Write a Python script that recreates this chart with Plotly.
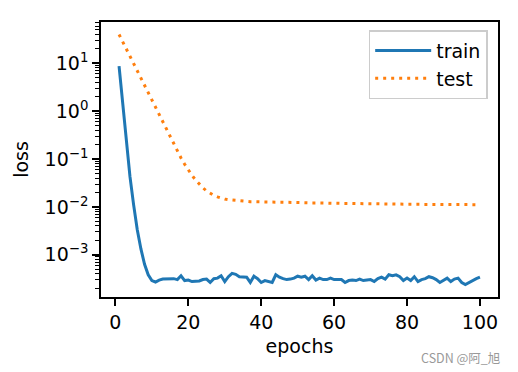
import plotly.graph_objects as go

epochs = list(range(1, 101))

train_loss = [
    8.71, 1.45, 0.240, 0.0427, 0.0110, 0.00331, 0.00132, 6.31e-4, 3.80e-4, 2.88e-4,
    2.69e-4, 2.95e-4, 3.09e-4, 3.09e-4, 3.09e-4, 3.16e-4, 3.02e-4, 3.63e-4, 2.88e-4, 2.95e-4,
    2.75e-4, 2.75e-4, 2.82e-4, 3.02e-4, 3.09e-4, 2.63e-4, 3.16e-4, 3.24e-4, 3.63e-4, 2.75e-4,
    3.47e-4, 4.07e-4, 3.89e-4, 3.47e-4, 3.39e-4, 3.39e-4, 2.63e-4, 3.55e-4, 3.16e-4, 2.63e-4,
    2.88e-4, 2.75e-4, 2.63e-4, 3.80e-4, 3.39e-4, 3.16e-4, 3.02e-4, 3.09e-4, 3.24e-4, 3.55e-4,
    3.39e-4, 3.55e-4, 3.02e-4, 3.63e-4, 2.95e-4, 3.24e-4, 3.02e-4, 3.02e-4, 3.24e-4, 3.02e-4,
    3.02e-4, 3.02e-4, 2.63e-4, 2.88e-4, 2.95e-4, 2.88e-4, 3.09e-4, 2.88e-4, 2.95e-4, 3.02e-4,
    2.75e-4, 3.16e-4, 3.39e-4, 3.09e-4, 3.80e-4, 3.63e-4, 3.80e-4, 3.47e-4, 2.88e-4, 3.24e-4,
    2.88e-4, 3.47e-4, 2.75e-4, 3.02e-4, 3.16e-4, 3.47e-4, 3.31e-4, 3.02e-4, 2.63e-4, 2.95e-4,
    3.24e-4, 2.75e-4, 3.09e-4, 3.24e-4, 2.63e-4, 2.38e-4, 2.63e-4, 2.95e-4, 3.16e-4, 3.39e-4,
]

test_loss = [
    40.0, 28.2, 19.5, 13.8, 9.55, 6.76, 4.79, 3.31, 2.34, 1.62,
    1.15, 0.813, 0.562, 0.398, 0.282, 0.200, 0.145, 0.105, 0.0776, 0.0589,
    0.0457, 0.0363, 0.0295, 0.0251, 0.0214, 0.0191, 0.0174, 0.0162, 0.0151, 0.0145,
    0.0141, 0.0138, 0.0135, 0.0132, 0.0130, 0.0129, 0.0128, 0.0128, 0.0127, 0.0127,
    0.0127, 0.0126, 0.0126, 0.0126, 0.0125, 0.0125, 0.0124, 0.0124, 0.0124, 0.0123,
    0.0123, 0.0122, 0.0122, 0.0121, 0.0121, 0.0120, 0.0120, 0.0120, 0.0119, 0.0119,
    0.0119, 0.0118, 0.0118, 0.0118, 0.0117, 0.0117, 0.0117, 0.0116, 0.0116, 0.0116,
    0.0116, 0.0115, 0.0115, 0.0115, 0.0115, 0.0114, 0.0114, 0.0114, 0.0114, 0.0113,
    0.0113, 0.0113, 0.0113, 0.0113, 0.0112, 0.0112, 0.0112, 0.0112, 0.0112, 0.0112,
    0.0111, 0.0111, 0.0111, 0.0111, 0.0111, 0.0111, 0.0111, 0.0111, 0.0111, 0.0111,
]

x_tick_vals = [0, 20, 40, 60, 80, 100]
y_tick_vals = [1e-3, 1e-2, 1e-1, 1, 10]
y_tick_text = ["10<sup>\u22123</sup>", "10<sup>\u22122</sup>", "10<sup>\u22121</sup>",
               "10<sup>0</sup>", "10<sup>1</sup>"]
y_minor_vals = [k * 10.0 ** e for e in range(-4, 2) for k in range(2, 10)]

FONT = "DejaVu Sans"
FS = 19

fig = go.Figure()
fig.add_trace(go.Scatter(
    x=epochs, y=train_loss, mode="lines", name="train",
    line=dict(color="#1f77b4", width=3),
))
fig.add_trace(go.Scatter(
    x=epochs, y=test_loss, mode="lines", name="test",
    line=dict(color="#ff7f0e", width=3, dash="3px,5px"),
))

axis_common = dict(
    showline=True, mirror=True, linecolor="black", linewidth=1.6,
    ticks="outside", ticklen=7, tickwidth=1.6, tickcolor="black",
    showgrid=False, zeroline=False,
    tickfont=dict(family=FONT, size=FS, color="black"),
)

# The page body has an 8px margin, so the figure is sized/placed to compensate.
fig.update_layout(
    width=510, height=364,
    paper_bgcolor="white", plot_bgcolor="white",
    margin=dict(l=93, r=20, t=14, b=75, pad=0),
    font=dict(family=FONT, size=FS, color="black"),
    xaxis=dict(
        range=[-3.95, 104.95], tickmode="array", tickvals=x_tick_vals,
        title=dict(text="epochs", font=dict(family=FONT, size=FS), standoff=8),
        **axis_common,
    ),
    yaxis=dict(
        type="log", range=[-3.884, 1.863], tickmode="array",
        tickvals=y_tick_vals, ticktext=y_tick_text,
        minor=dict(tickmode="array", tickvals=y_minor_vals, ticks="outside",
                   ticklen=4, tickwidth=1.2, tickcolor="black", showgrid=False),
        title=dict(text="loss", font=dict(family=FONT, size=FS), standoff=11),
        **axis_common,
    ),
    legend=dict(
        x=0.974, y=0.97, xanchor="right", yanchor="top",
        bgcolor="rgba(255,255,255,0.8)", bordercolor="#cccccc", borderwidth=1.5,
        font=dict(family=FONT, size=FS, color="black"),
        tracegroupgap=0, itemwidth=56,
    ),
    showlegend=True,
    annotations=[dict(
        text="CSDN @阿_旭", xref="paper", yref="paper",
        x=1.011, y=-0.22, xanchor="right", yanchor="middle", showarrow=False,
        font=dict(family="Noto Sans CJK SC", size=12.5, color="#999999"),
    )],
)

fig.write_html("out.html")
